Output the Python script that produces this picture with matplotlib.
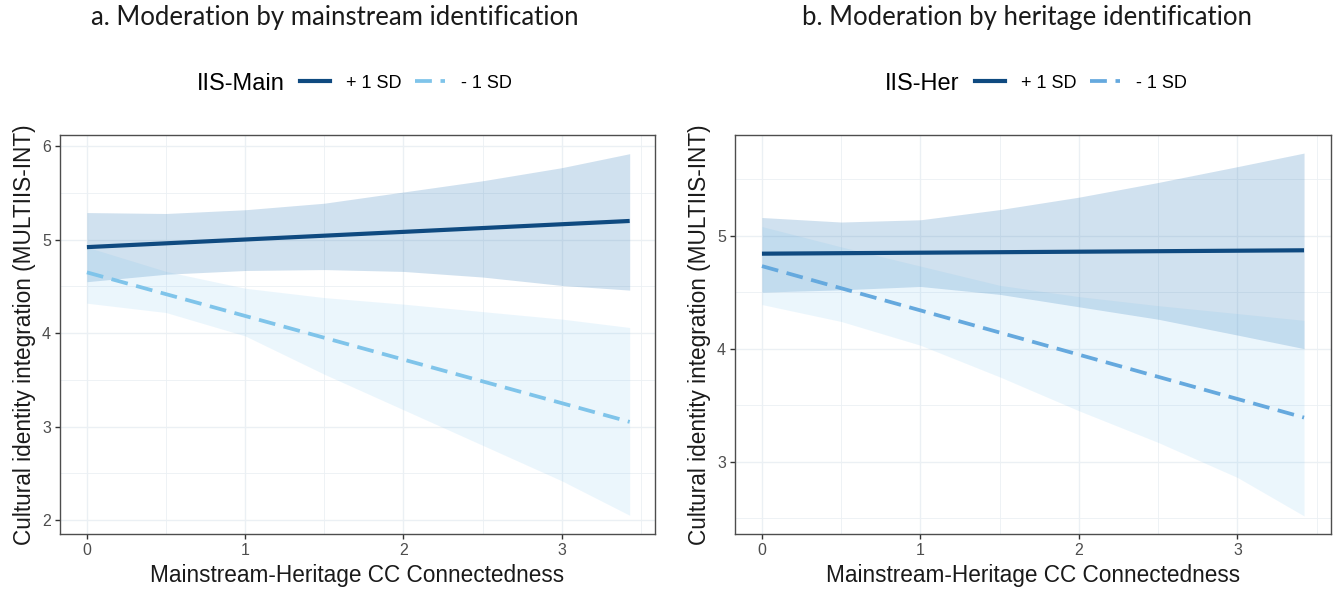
import matplotlib
matplotlib.use("Agg")
import matplotlib.pyplot as plt
from matplotlib.lines import Line2D
from matplotlib.ticker import MultipleLocator

# Panel a: moderation by mainstream identification
x_band_a = [0, 0.5, 1, 1.5, 2, 2.5, 3, 3.43]
hi_upper_a = [5.29, 5.28, 5.32, 5.39, 5.51, 5.63, 5.77, 5.92]
hi_lower_a = [4.55, 4.63, 4.67, 4.68, 4.66, 4.60, 4.51, 4.46]
lo_upper_a = [4.92, 4.66, 4.48, 4.38, 4.31, 4.23, 4.15, 4.06]
lo_lower_a = [4.32, 4.22, 3.97, 3.56, 3.18, 2.80, 2.42, 2.05]
x_line_a = [0, 3.43]
hi_fit_a = [4.92, 5.20]
lo_fit_a = [4.65, 3.05]

# Panel b: moderation by heritage identification
x_band_b = [0, 0.5, 1, 1.5, 2, 2.5, 3, 3.42]
hi_upper_b = [5.16, 5.12, 5.14, 5.23, 5.34, 5.47, 5.61, 5.73]
hi_lower_b = [4.50, 4.52, 4.55, 4.48, 4.37, 4.26, 4.12, 4.00]
lo_upper_b = [5.08, 4.90, 4.73, 4.56, 4.46, 4.38, 4.31, 4.25]
lo_lower_b = [4.39, 4.24, 4.03, 3.75, 3.45, 3.17, 2.86, 2.52]
x_line_b = [0, 3.42]
hi_fit_b = [4.84, 4.87]
lo_fit_b = [4.73, 3.39]

group_labels = ["+ 1 SD", "- 1 SD"]
xlabel = "Mainstream-Heritage CC Connectedness"
ylabel = "Cultural identity integration (MULTIIS-INT)"

DARK = "#0f4a80"
GRID = "#ebf0f4"
W, H = 1333, 592

plt.rcParams["font.family"] = ["Liberation Sans", "DejaVu Sans"]

fig = plt.figure(figsize=(W / 100, H / 100), dpi=100)


def draw_panel(rect, xb, hu, hl, lu, ll, xl, hf, lf, light, ylim, yticks):
    ax = fig.add_axes(rect)
    ax.set_axisbelow(True)
    ax.fill_between(xb, hl, hu, color="#2c78b8", alpha=0.22, lw=0)
    ax.fill_between(xb, ll, lu, color="#5fb8ee", alpha=0.12, lw=0)
    ax.plot(xl, hf, color=DARK, lw=3.0, solid_capstyle="butt")
    ax.plot(xl, lf, color=light, lw=2.7, dashes=(4.5, 2.3))
    ax.set_xlim(-0.17, 3.59)
    ax.set_ylim(*ylim)
    ax.set_xticks([0, 1, 2, 3])
    ax.set_yticks(yticks)
    ax.xaxis.set_minor_locator(MultipleLocator(0.5))
    ax.yaxis.set_minor_locator(MultipleLocator(0.5))
    ax.grid(which="major", color=GRID, lw=1.0)
    ax.grid(which="minor", color=GRID, lw=0.6)
    ax.tick_params(which="minor", length=0)
    ax.tick_params(which="major", length=3.5, width=1, color="#333333",
                   labelsize=11.5, labelcolor="#4d4d4d", pad=3)
    for s in ax.spines.values():
        s.set_color("#4d4d4d")
        s.set_linewidth(1.0)
    ax.set_xlabel(xlabel, fontsize=16.3, color="#1a1a1a")
    ax.set_ylabel(ylabel, fontsize=16.3, color="#1a1a1a")
    ax.xaxis.set_label_coords(0.5, -0.075)
    ax.yaxis.set_label_coords(-0.04, 0.5)
    return ax


draw_panel([60 / W, 58 / H, 595 / W, 399 / H], x_band_a, hi_upper_a, hi_lower_a,
           lo_upper_a, lo_lower_a, x_line_a, hi_fit_a, lo_fit_a, "#7fc4ea",
           (1.85, 6.12), [2, 3, 4, 5, 6])
draw_panel([735 / W, 58 / H, 596 / W, 399 / H], x_band_b, hi_upper_b, hi_lower_b,
           lo_upper_b, lo_lower_b, x_line_b, hi_fit_b, lo_fit_b, "#65a9de",
           (2.36, 5.89), [3, 4, 5])

# titles
fig.text(335 / W, 1 - 18 / H, "a. Moderation by mainstream identification",
         ha="center", va="center", fontsize=18.5, family="Lato", color="#1a1a1a")
fig.text(1027 / W, 1 - 18 / H, "b. Moderation by heritage identification",
         ha="center", va="center", fontsize=18.5, family="Lato", color="#1a1a1a")

# legends
for title, tx, lx, light in [("IIS-Main", 197, 300, "#7fc4ea"),
                             ("IIS-Her", 885, 975, "#65a9de")]:
    fig.text(tx / W, 1 - 84 / H, title, ha="left", va="center", fontsize=17)
    handles = [Line2D([], [], color=DARK, lw=3.0),
               Line2D([], [], color=light, lw=2.7, dashes=(4.5, 2.3))]
    fig.legend(handles, group_labels, loc="center left",
               bbox_to_anchor=(lx / W, 1 - 83 / H), ncol=2, frameon=False,
               fontsize=13, handlelength=1.65, handletextpad=0.9,
               columnspacing=0.75, borderpad=0, borderaxespad=0)

fig.savefig("out.png", dpi=100)
